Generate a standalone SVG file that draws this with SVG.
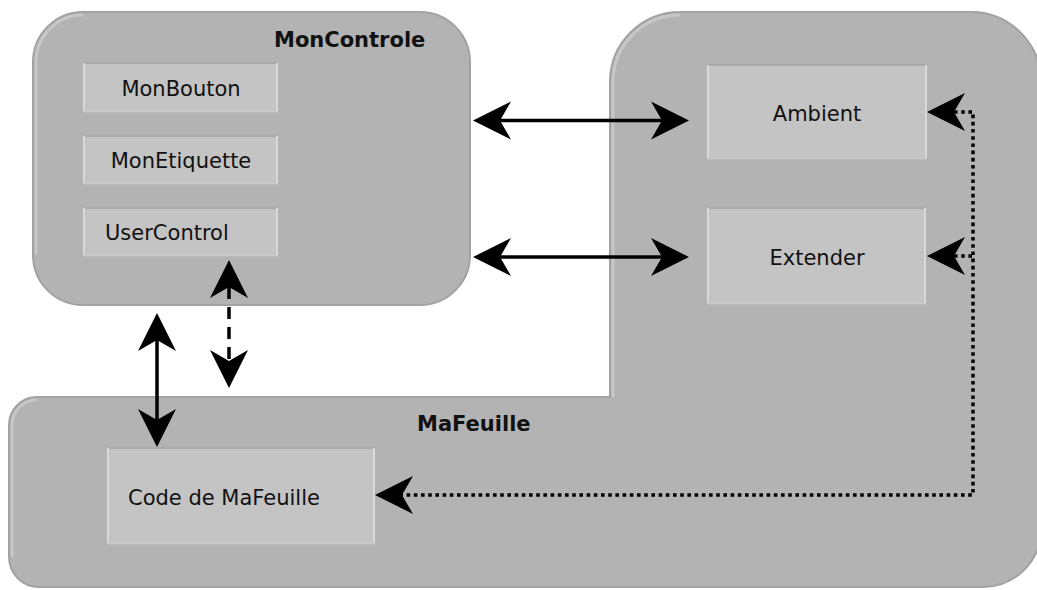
<svg xmlns="http://www.w3.org/2000/svg" width="1037" height="590" viewBox="0 0 1037 590">
<style>
.cont{fill:#b3b3b3;stroke:#a2a2a2;stroke-width:2}
.hl{fill:none;stroke:#c7c7c7;stroke-width:3}
.box{fill:#c4c4c4}
.btop{stroke:#a9a9a9;stroke-width:2}
.bside{stroke:#d9d9d9;stroke-width:2}
.bbot{stroke:#cbcbcb;stroke-width:1.5}
text{font-family:"DejaVu Sans",Verdana,sans-serif;font-size:21px;fill:#111}
.title{font-weight:bold}
.mid{text-anchor:middle}
.solid{fill:none;stroke:#000;stroke-width:3.5;marker-start:url(#ah);marker-end:url(#ah)}
.dash{fill:none;stroke:#000;stroke-width:3.5;stroke-dasharray:12 8;marker-start:url(#ah);marker-end:url(#ah)}
.dot{fill:none;stroke:#000;stroke-width:3.5;stroke-dasharray:3.6 3.6}
</style>
<defs>
<marker id="ah" viewBox="-40 -20 42 40" refX="-27" refY="0" markerWidth="42" markerHeight="40" markerUnits="userSpaceOnUse" orient="auto-start-reverse">
<path d="M0,0 L-38,-19 L-27,0 L-38,19 Z" fill="#000"/>
</marker>
</defs>

<g id="MaFeuille">
<path class="cont" d="M37,397 H610 V82 A70 70 0 0 1 680,12 H971 A70 70 0 0 1 1041,82 V529 A58 58 0 0 1 983,587 H39 A30 30 0 0 1 9,557 V425 A28 28 0 0 1 37,397 Z"/>
<path class="hl" d="M613,397 V82 A67 67 0 0 1 680,15"/>
<path class="hl" d="M12,557 V425 A25 25 0 0 1 37,400"/>
<text class="title" x="417" y="431">MaFeuille</text>
</g>

<g id="MonControle">
<rect class="cont" x="33" y="12" width="437" height="293" rx="50" ry="50"/>
<path class="hl" d="M36,255 V62 A47 47 0 0 1 83,15"/>
<text class="title" x="274" y="47">MonControle</text>
</g>

<g id="MonBouton">
<rect class="box" x="83" y="62" width="195" height="50"/>
<line class="btop" x1="83" y1="63" x2="278" y2="63"/>
<line class="bside" x1="84" y1="63" x2="84" y2="112"/>
<line class="bside" x1="277" y1="63" x2="277" y2="112"/>
<line class="bbot" x1="83" y1="111.5" x2="278" y2="111.5"/>
<text class="mid" x="181" y="96">MonBouton</text>
</g>

<g id="MonEtiquette">
<rect class="box" x="83" y="135" width="195" height="49"/>
<line class="btop" x1="83" y1="136" x2="278" y2="136"/>
<line class="bside" x1="84" y1="136" x2="84" y2="184"/>
<line class="bside" x1="277" y1="136" x2="277" y2="184"/>
<line class="bbot" x1="83" y1="183.5" x2="278" y2="183.5"/>
<text class="mid" x="181" y="168">MonEtiquette</text>
</g>

<g id="UserControl">
<rect class="box" x="83" y="207" width="195" height="49"/>
<line class="btop" x1="83" y1="208" x2="278" y2="208"/>
<line class="bside" x1="84" y1="208" x2="84" y2="256"/>
<line class="bside" x1="277" y1="208" x2="277" y2="256"/>
<line class="bbot" x1="83" y1="255.5" x2="278" y2="255.5"/>
<text x="105" y="240">UserControl</text>
</g>

<g id="Ambient">
<rect class="box" x="707" y="64" width="220" height="95"/>
<line class="btop" x1="707" y1="65" x2="927" y2="65"/>
<line class="bside" x1="708" y1="65" x2="708" y2="159"/>
<line class="bside" x1="926" y1="65" x2="926" y2="159"/>
<line class="bbot" x1="707" y1="158.5" x2="927" y2="158.5"/>
<text class="mid" x="817" y="121">Ambient</text>
</g>

<g id="Extender">
<rect class="box" x="707" y="207" width="219" height="97"/>
<line class="btop" x1="707" y1="208" x2="926" y2="208"/>
<line class="bside" x1="708" y1="208" x2="708" y2="304"/>
<line class="bside" x1="925" y1="208" x2="925" y2="304"/>
<line class="bbot" x1="707" y1="303.5" x2="926" y2="303.5"/>
<text class="mid" x="817" y="265">Extender</text>
</g>

<g id="CodeDeMaFeuille">
<rect class="box" x="107" y="447" width="268" height="97"/>
<line class="btop" x1="107" y1="448" x2="375" y2="448"/>
<line class="bside" x1="108" y1="448" x2="108" y2="544"/>
<line class="bside" x1="374" y1="448" x2="374" y2="544"/>
<line class="bbot" x1="107" y1="543.5" x2="375" y2="543.5"/>
<text x="128" y="505">Code de MaFeuille</text>
</g>

<g id="connectors">
<line class="solid" x1="500" y1="120.5" x2="662" y2="120.5"/>
<line class="solid" x1="500" y1="257" x2="662" y2="257"/>
<line class="solid" x1="157" y1="340" x2="157" y2="420"/>
<line class="dash" x1="229" y1="287" x2="229" y2="361"/>
<path class="dot" d="M954,112 H973 V495 H402" marker-start="url(#ah)" marker-end="url(#ah)"/>
<path class="dot" d="M954,256 H973" marker-start="url(#ah)"/>
</g>
</svg>
